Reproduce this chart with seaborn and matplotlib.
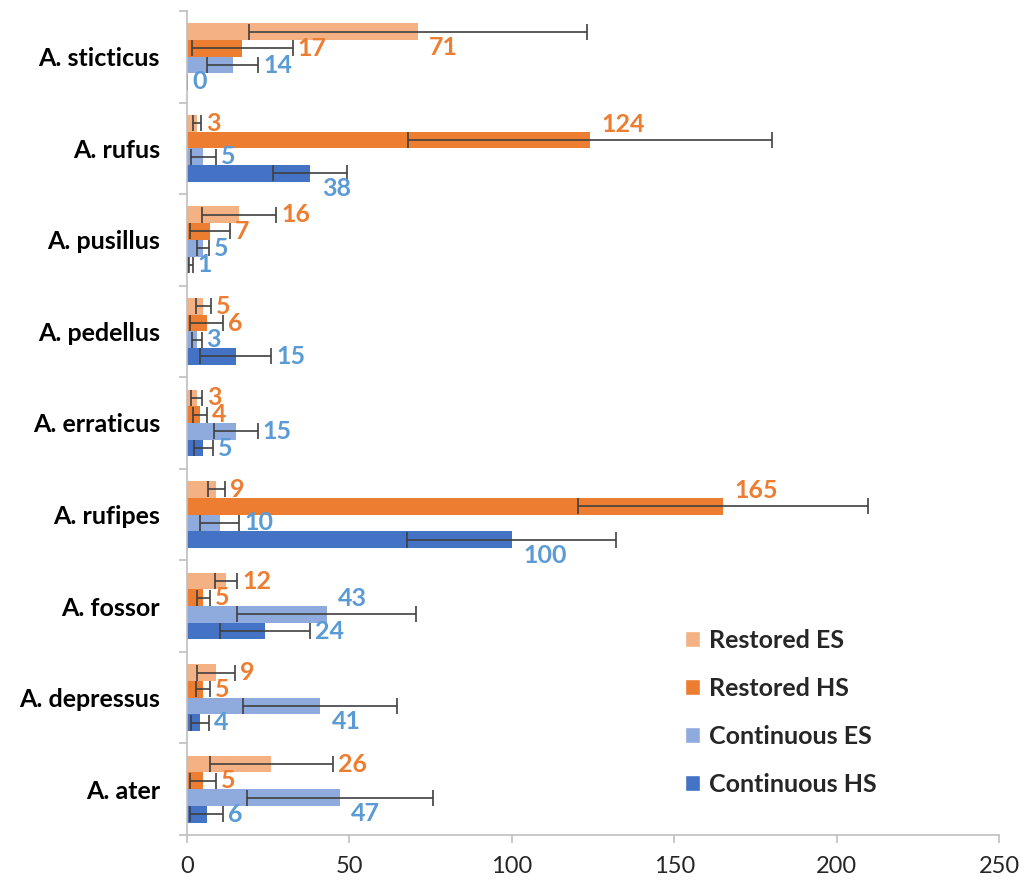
import matplotlib
matplotlib.use("Agg")
import matplotlib.pyplot as plt
import numpy as np
import pandas as pd
import seaborn as sns
from matplotlib.patches import Patch

# species, top to bottom
species = ["A. sticticus", "A. rufus", "A. pusillus", "A. pedellus", "A. erraticus",
           "A. rufipes", "A. fossor", "A. depressus", "A. ater"]
series_names = ["Restored ES", "Restored HS", "Continuous ES", "Continuous HS"]

restored_es = [71, 3, 16, 5, 3, 9, 12, 9, 26]
restored_es_err = [52, 1.3, 11.5, 2.3, 1.75, 2.6, 3.4, 5.8, 18.9]
restored_hs = [17, 124, 7, 6, 4, 165, 5, 5, 5]
restored_hs_err = [15.6, 56, 6.2, 5, 2.1, 44.7, 2, 2.1, 4]
continuous_es = [14, 5, 5, 3, 15, 10, 43, 41, 47]
continuous_es_err = [8, 3.9, 1.85, 1.5, 6.8, 6.1, 27.6, 23.7, 28.6]
continuous_hs = [0, 38, 1, 15, 5, 100, 24, 4, 6]
continuous_hs_err = [0, 11.4, 0.7, 10.9, 2.9, 32.2, 13.9, 2.85, 5]

colors = ["#F4B183", "#ED7D31", "#8FAADC", "#4472C4"]
label_colors = ["#ED7D31", "#ED7D31", "#5B9BD5", "#5B9BD5"]

# value labels that sit above (-1) or below (+1) the bar instead of after the error bar
moved_labels = {
    ("A. sticticus", "Restored ES"): 1,
    ("A. rufus", "Restored HS"): -1,
    ("A. rufus", "Continuous HS"): 1,
    ("A. rufipes", "Restored HS"): -1,
    ("A. rufipes", "Continuous HS"): 1,
    ("A. fossor", "Continuous ES"): -1,
    ("A. depressus", "Continuous ES"): 1,
    ("A. ater", "Continuous ES"): 1,
}

values = [restored_es, restored_hs, continuous_es, continuous_hs]
errors = [restored_es_err, restored_hs_err, continuous_es_err, continuous_hs_err]

rows = []
for name, vals, errs in zip(series_names, values, errors):
    for sp, v, e in zip(species, vals, errs):
        rows.append({"species": sp, "series": name, "value": v, "err": e})
df = pd.DataFrame(rows)

sns.set_style("ticks")
plt.rcParams["font.family"] = ["Lato", "DejaVu Sans"]

fig = plt.figure(figsize=(10.26, 8.83), dpi=100)
ax = fig.add_axes([0.1823, 0.0544, 0.7914, 0.9332])

sns.barplot(data=df, y="species", x="value", hue="series", order=species,
            hue_order=series_names, palette=colors, width=0.73, orient="h",
            errorbar=None, linewidth=0, saturation=1, legend=False, ax=ax)

for cont, name, lc, errs in zip(ax.containers, series_names, label_colors, errors):
    for bar in cont:
        yc = bar.get_y() + bar.get_height() / 2
        i = int(round(yc))
        sp = species[i]
        v = bar.get_width()
        e = errs[i]
        ax.errorbar(v, yc, xerr=e, fmt="none", ecolor="#404040",
                    elinewidth=1.2, capsize=5.5, capthick=1.2)
        shift = moved_labels.get((sp, name))
        if shift:
            tx, ty = v + 3.5, yc + shift * 0.17
        else:
            tx, ty = v + e + 1.5, yc
        ax.text(tx, ty, f"{v:g}", color=lc, fontsize=18, fontweight="bold",
                ha="left", va="center")

ax.set_xlim(0, 250)
ax.set_xticks(range(0, 251, 50))
ax.set_ylim(len(species) - 0.5, -0.5)
ax.set_yticks(np.arange(-0.5, len(species)), minor=True)
ax.set_xlabel("")
ax.set_ylabel("")

ax.tick_params(axis="y", which="major", length=0, pad=19.5, labelsize=18,
               labelcolor="black")
ax.tick_params(axis="y", which="minor", length=6, width=1.2, color="#BFBFBF")
ax.tick_params(axis="x", length=6, width=1.2, color="#BFBFBF", pad=9,
               labelsize=17, labelcolor="#262626")
for t in ax.get_yticklabels():
    t.set_fontweight("bold")

sns.despine(ax=ax)
for s in ["left", "bottom"]:
    ax.spines[s].set_color("#BFBFBF")
    ax.spines[s].set_linewidth(1.2)

handles = [Patch(facecolor=c, label=n) for c, n in zip(colors, series_names)]
ax.legend(handles=handles, loc="center left", bbox_to_anchor=(0.613, 0.149),
          frameon=False, prop={"weight": "bold", "size": 18},
          handlelength=0.6, handleheight=0.6, handletextpad=0.35,
          labelspacing=1.0, borderpad=0, borderaxespad=0)

fig.savefig("out.png", dpi=100)
